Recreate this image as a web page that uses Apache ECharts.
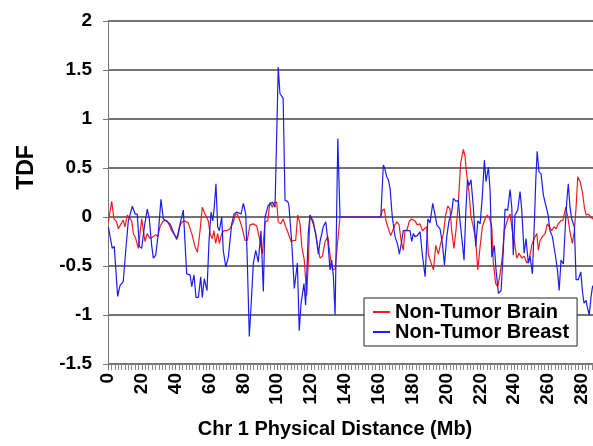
<!DOCTYPE html>
<html>
<head>
<meta charset="utf-8">
<title>TDF Chr 1</title>
<script src="https://cdn.jsdelivr.net/npm/echarts@6/dist/echarts.min.js"></script>
<style>
  html, body { margin: 0; padding: 0; background: #fff; }
  #chart { width: 593px; height: 446px; }
</style>
</head>
<body>
<div id="chart"></div>
<script>
// Non-Tumor Brain (red)
var brainMb = [0.2, 2.2, 3.5, 5.1, 6.1, 7.7, 9.0, 10.0, 11.4, 12.4, 14.0, 15.0, 16.4, 17.9, 18.9, 19.9, 20.9, 21.9, 23.2, 24.8,
  26.8, 28.2, 29.4, 30.7, 32.7, 34.7, 36.2, 37.6, 39.6, 41.2, 42.6, 43.9, 45.5, 47.4, 49.5, 51.4, 52.8, 54.4, 55.7, 57.3,
  59.3, 60.3, 61.6, 62.6, 63.6, 64.8, 65.8, 67.2, 68.6, 70.1, 72.1, 74.1, 75.1, 76.4, 78.0, 79.4, 81.0, 82.3, 83.9, 85.9,
  87.9, 89.8, 91.2, 92.8, 94.4, 95.7, 97.1, 98.3, 99.7, 100.6, 102.0, 103.5, 105.0, 106.6, 108.2, 109.5, 110.9, 112.1, 113.5, 114.5,
  116.0, 117.4, 118.4, 119.4, 121.3, 123.3, 125.3, 126.7, 128.3, 129.9, 131.2, 132.6, 134.2, 135.3, 137.1, 161.2, 162.1, 163.3, 164.3, 165.7,
  167.1, 168.0, 169.6, 170.8, 172.0, 173.2, 174.5, 175.5, 176.7, 178.1, 179.5, 181.4, 182.8, 184.4, 185.8, 187.0, 188.4, 189.3, 190.9, 192.3,
  193.7, 195.2, 196.6, 198.2, 199.6, 200.8, 202.1, 203.1, 204.4, 205.6, 207.0, 208.4, 210.0, 211.0, 211.9, 213.3, 214.5, 215.9, 217.3, 218.5,
  219.9, 221.2, 222.8, 224.2, 225.6, 226.8, 227.7, 229.1, 230.3, 231.7, 233.0, 234.2, 236.2, 237.6, 238.9, 240.1, 241.5, 242.9, 244.5, 245.9,
  247.5, 248.8, 250.4, 251.8, 253.4, 254.3, 255.3, 256.7, 258.3, 259.6, 260.8, 262.2, 263.6, 264.8, 266.1, 267.5, 268.9, 270.5, 271.7, 273.0,
  274.4, 275.6, 276.6, 277.6, 279.0, 280.3, 281.5, 282.5, 283.9, 285.3, 286.6];
var brainTdf = [-0.05, 0.16, -0.02, -0.05, -0.12, -0.07, -0.03, -0.10, 0.02, 0.0, -0.04, -0.17, -0.22, -0.32, -0.30, -0.02, -0.14, -0.25, -0.17, -0.22,
  -0.20, -0.18, -0.20, -0.10, -0.04, -0.04, -0.08, -0.14, -0.19, -0.21, -0.08, -0.05, -0.04, -0.06, -0.17, -0.30, -0.36, -0.14, 0.10, 0.03,
  -0.04, -0.17, -0.22, -0.14, -0.27, -0.17, -0.27, -0.17, -0.14, -0.14, -0.12, -0.05, 0.02, 0.03, -0.04, -0.12, -0.24, -0.24, -0.08, -0.07,
  -0.09, -0.24, -0.38, -0.05, -0.04, 0.15, 0.10, 0.15, 0.15, -0.05, -0.07, -0.02, -0.10, -0.17, -0.25, -0.24, -0.24, 0.02, -0.07, -0.30,
  -0.44, -0.80, -0.45, 0.02, -0.04, -0.24, -0.42, -0.40, -0.25, -0.20, -0.39, -0.54, -0.53, -0.55, 0.0, 0.0, 0.07, 0.08, -0.04, -0.12,
  -0.19, -0.19, -0.08, -0.05, -0.08, -0.24, -0.34, -0.14, -0.13, -0.04, -0.02, -0.04, -0.08, -0.07, -0.14, -0.12, -0.10, -0.38, -0.47, -0.54,
  -0.29, -0.38, -0.27, -0.17, 0.03, 0.11, 0.08, -0.14, -0.32, -0.14, 0.14, 0.55, 0.69, 0.62, 0.44, 0.26, 0.0, -0.10, -0.24, -0.54,
  -0.30, -0.10, -0.02, 0.02, -0.02, -0.10, -0.47, -0.68, -0.71, -0.58, -0.41, -0.14, -0.02, 0.03, -0.14, -0.24, -0.42, -0.37, -0.42, -0.40,
  -0.47, -0.44, -0.29, -0.22, -0.17, -0.34, -0.24, -0.20, -0.17, -0.07, -0.10, -0.14, -0.10, -0.12, -0.07, -0.04, -0.03, 0.10, 0.0, -0.15,
  -0.27, -0.14, 0.10, 0.41, 0.36, 0.26, 0.10, 0.02, 0.03, 0.0, -0.02];

// Non-Tumor Breast (blue)
var breastMb = [0.2, 2.5, 3.7, 5.7, 7.1, 9.0, 10.5, 12.0, 14.4, 16.0, 17.3, 18.5, 19.9, 21.5, 23.2, 24.4, 25.8, 26.8, 28.2, 29.7,
  31.3, 32.7, 34.7, 36.6, 38.6, 40.6, 42.6, 44.5, 46.5, 48.5, 49.5, 50.8, 52.0, 53.4, 54.8, 55.7, 56.9, 58.5, 59.7, 60.9,
  61.9, 62.8, 63.8, 64.8, 65.8, 67.2, 68.1, 69.6, 71.1, 73.1, 74.5, 76.1, 77.0, 78.6, 80.0, 81.4, 82.3, 83.5, 84.5, 85.9,
  87.3, 88.8, 90.4, 91.8, 92.8, 94.7, 97.1, 98.7, 100.6, 101.6, 103.5, 104.6, 106.2, 106.9, 108.5, 110.1, 111.1, 111.9, 113.0, 114.1,
  115.8, 116.8, 118.4, 119.4, 121.3, 122.8, 124.3, 125.3, 127.2, 128.7, 129.9, 131.2, 132.2, 133.2, 134.2, 135.2, 135.8, 137.1, 161.2, 162.7,
  163.5, 164.7, 165.7, 166.7, 168.0, 169.6, 171.0, 172.2, 173.6, 174.5, 176.5, 177.5, 178.5, 179.5, 180.4, 181.4, 182.8, 184.4, 185.8, 187.4,
  189.0, 190.3, 191.9, 193.3, 194.3, 196.2, 197.6, 198.8, 200.2, 201.5, 203.1, 204.1, 205.7, 207.0, 208.0, 209.0, 210.4, 211.4, 212.4, 213.4,
  214.5, 215.9, 217.3, 218.5, 219.9, 221.2, 222.4, 223.4, 224.8, 225.8, 226.8, 228.3, 229.3, 230.7, 232.3, 233.6, 234.6, 236.2, 237.6, 238.6,
  239.5, 240.5, 242.1, 243.5, 244.5, 245.9, 247.0, 248.4, 249.4, 250.8, 252.0, 252.8, 253.6, 254.7, 255.9, 257.3, 258.7, 260.0, 261.2, 262.6,
  264.2, 265.6, 266.6, 267.7, 269.1, 270.1, 271.1, 272.0, 273.0, 274.0, 275.6, 276.6, 277.9, 279.4, 280.3, 281.3, 282.5, 283.5, 284.4, 285.4,
  286.4];
var breastTdf = [-0.10, -0.32, -0.30, -0.81, -0.70, -0.66, -0.34, -0.04, 0.11, 0.03, 0.03, -0.30, -0.32, -0.10, 0.08, -0.02, -0.29, -0.42, -0.39, -0.17,
  0.18, -0.02, -0.04, -0.07, -0.15, -0.23, -0.07, 0.07, -0.58, -0.59, -0.71, -0.59, -0.82, -0.82, -0.61, -0.82, -0.63, -0.75, -0.24, 0.05,
  -0.04, 0.10, 0.34, -0.10, -0.14, 0.0, -0.34, -0.51, -0.41, -0.07, 0.03, 0.05, 0.07, 0.03, 0.14, 0.03, -0.44, -1.22, -0.92, -0.47,
  -0.34, -0.46, -0.14, -0.76, 0.0, 0.12, 0.15, 0.10, 1.53, 1.26, 1.21, 0.17, 0.16, 0.12, -0.24, -0.73, -0.75, -0.47, -1.16, -0.88,
  -0.68, -0.90, -0.15, 0.02, -0.07, -0.17, -0.38, -0.25, -0.10, -0.05, -0.24, -0.54, -0.44, -0.61, -1.0, -0.99, 0.80, 0.0, 0.0, 0.53,
  0.50, 0.41, 0.38, 0.29, 0.0, -0.20, -0.27, -0.38, -0.24, -0.14, -0.14, -0.12, -0.14, -0.25, -0.17, -0.20, -0.19, -0.15, -0.39, -0.61,
  -0.02, -0.06, 0.14, 0.02, -0.08, -0.12, -0.27, -0.49, -0.20, -0.04, 0.05, 0.19, 0.16, 0.17, -0.04, -0.20, -0.44, 0.03, 0.38, 0.32,
  0.38, 0.10, -0.30, -0.04, -0.07, 0.21, 0.58, 0.36, 0.51, 0.27, -0.41, -0.29, -0.54, -0.78, -0.75, -0.34, 0.08, 0.07, 0.28, 0.10,
  -0.39, 0.02, 0.07, 0.26, 0.07, -0.37, -0.22, -0.47, -0.40, -0.58, -0.03, 0.38, 0.67, 0.46, 0.44, 0.22, 0.12, 0.03, -0.14, -0.20,
  -0.37, -0.54, -0.75, -0.44, -0.48, -0.14, 0.16, 0.34, 0.10, -0.02, -0.10, -0.64, -0.64, -0.56, -0.75, -0.88, -0.85, -0.94, -1.0, -0.82,
  -0.70];

var xTicks = [0, 20, 40, 60, 80, 100, 120, 140, 160, 180, 200, 220, 240, 260, 280];
var yTicks = [-1.5, -1, -0.5, 0, 0.5, 1, 1.5, 2];

function pairs(xs, ys) {
  var out = [];
  for (var i = 0; i < xs.length; i++) {
    out.push([xs[i], ys[i]]);
  }
  return out;
}

var font = "'Liberation Sans', Arial, sans-serif";
var chart = echarts.init(document.getElementById("chart"));

chart.setOption({
  animation: false,
  backgroundColor: "#fff",
  textStyle: { fontFamily: font },
  grid: { left: 108, right: 0, top: 21, bottom: 82 },
  legend: {
    orient: "vertical",
    left: 364,
    top: 298,
    padding: [4, 8, 4, 9],
    itemGap: 0,
    itemWidth: 17,
    itemHeight: 2,
    icon: "rect",
    backgroundColor: "#fff",
    borderColor: "#222",
    borderWidth: 1,
    textStyle: { fontSize: 20, fontWeight: "bold", color: "#000", fontFamily: font },
    data: ["Non-Tumor Brain", "Non-Tumor Breast"]
  },
  xAxis: {
    type: "value",
    min: xTicks[0],
    max: 286.6,
    interval: xTicks[1] - xTicks[0],
    name: "Chr 1 Physical Distance (Mb)",
    nameLocation: "middle",
    nameGap: 55,
    nameTextStyle: { fontSize: 20, fontWeight: "bold", color: "#000", padding: [0, 31, 0, 0] },
    axisLine: { show: true, onZero: false, lineStyle: { color: "#777", width: 1 } },
    axisTick: { show: true, length: 6, lineStyle: { color: "#777" } },
    minorTick: { show: true, splitNumber: 10, length: 6, lineStyle: { color: "#888" } },
    axisLabel: {
      rotate: 90,
      margin: 9,
      fontSize: 19,
      fontWeight: "bold",
      color: "#000",
      showMaxLabel: false,
      formatter: function (v) { return xTicks.indexOf(v) >= 0 ? String(v) : ""; }
    },
    splitLine: { show: false }
  },
  yAxis: {
    type: "value",
    min: yTicks[0],
    max: yTicks[yTicks.length - 1],
    interval: 0.5,
    name: "TDF",
    nameLocation: "middle",
    nameGap: 70,
    nameTextStyle: { fontSize: 23, fontWeight: "bold", color: "#000", padding: [0, 0, 0, 50] },
    axisLine: { show: true, onZero: false, lineStyle: { color: "#777", width: 1 } },
    axisTick: { show: true, length: 5, lineStyle: { color: "#777" } },
    axisLabel: { margin: 16, fontSize: 19, fontWeight: "bold", color: "#000" },
    splitLine: { show: true, lineStyle: { color: "#444", width: 1.5 } }
  },
  series: [
    {
      name: "Non-Tumor Brain",
      type: "line",
      showSymbol: false,
      color: "#ee1c1c",
      lineStyle: { width: 1.2, color: "#ee1c1c" },
      data: pairs(brainMb, brainTdf)
    },
    {
      name: "Non-Tumor Breast",
      type: "line",
      showSymbol: false,
      color: "#1c1cee",
      lineStyle: { width: 1.2, color: "#1c1cee" },
      data: pairs(breastMb, breastTdf)
    }
  ]
});
</script>
</body>
</html>
